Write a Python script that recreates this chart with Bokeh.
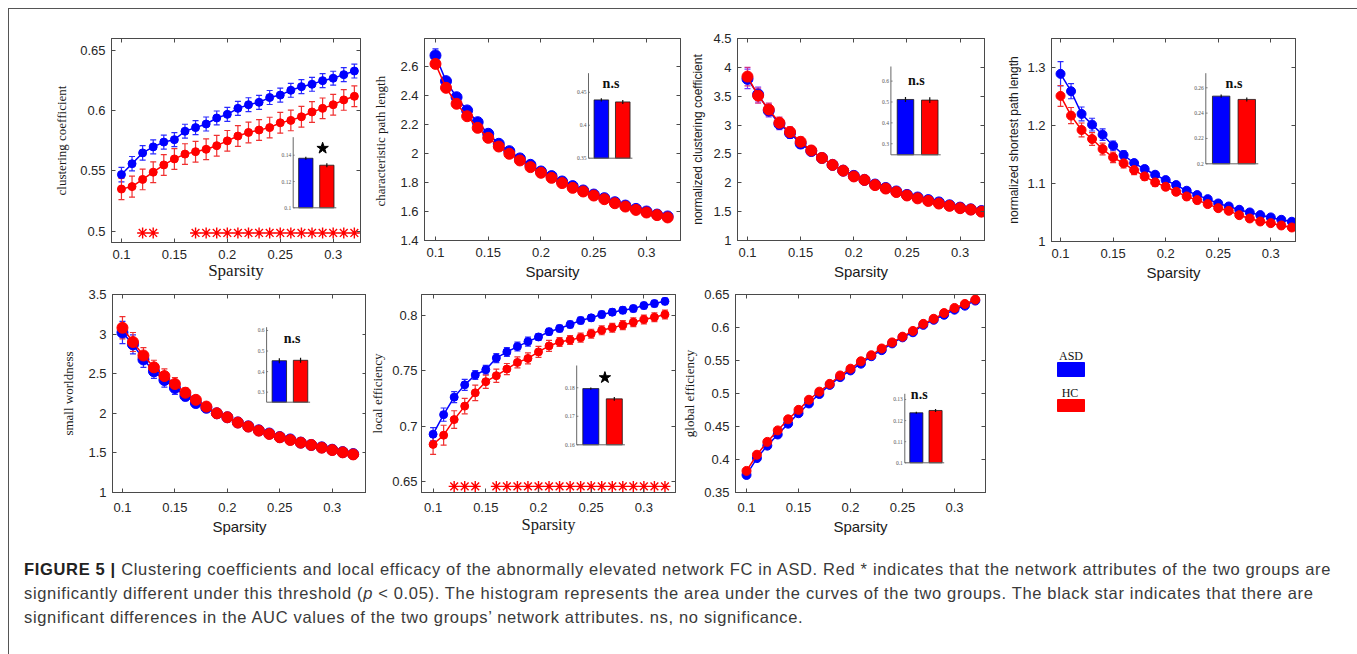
from bokeh.plotting import figure
from bokeh.models import (Range1d, LinearAxis, FixedTicker, CustomJSTickFormatter, Whisker,
                          ColumnDataSource, TeeHead, Div)
from bokeh.layouts import row, column
from bokeh.core.properties import value
from bokeh.embed import file_html
from bokeh.resources import INLINE

# ---------------------------------------------------------------- data
sparsity = [0.10, 0.11, 0.12, 0.13, 0.14, 0.15, 0.16, 0.17, 0.18, 0.19, 0.20, 0.21,
            0.22, 0.23, 0.24, 0.25, 0.26, 0.27, 0.28, 0.29, 0.30, 0.31, 0.32]

cc_asd = [0.547, 0.556, 0.565, 0.570, 0.574, 0.576, 0.583, 0.586, 0.589, 0.594, 0.597, 0.602,
          0.605, 0.607, 0.611, 0.613, 0.617, 0.620, 0.622, 0.625, 0.627, 0.630, 0.633]
cc_hc = [0.535, 0.537, 0.543, 0.549, 0.555, 0.560, 0.564, 0.566, 0.568, 0.571, 0.575, 0.579,
         0.582, 0.584, 0.586, 0.590, 0.592, 0.595, 0.599, 0.602, 0.605, 0.609, 0.612]
cc_asd_err = [0.0060, 0.0060, 0.0060, 0.0058, 0.0058, 0.0058, 0.0058, 0.0058, 0.0058, 0.0058, 0.0058, 0.0058,
              0.0058, 0.0058, 0.0058, 0.0058, 0.0058, 0.0058, 0.0058, 0.0058, 0.0058, 0.0058, 0.0058]
cc_hc_err = [0.0088, 0.0088, 0.0086, 0.0086, 0.0086, 0.0086, 0.0086, 0.0086, 0.0086, 0.0086, 0.0086, 0.0086,
             0.0086, 0.0086, 0.0086, 0.0086, 0.0086, 0.0086, 0.0086, 0.0086, 0.0086, 0.0086, 0.0086]
cc_sig = [0.12, 0.13, 0.17, 0.18, 0.19, 0.20, 0.21, 0.22, 0.23, 0.24, 0.25, 0.26, 0.27, 0.28,
          0.29, 0.30, 0.31, 0.32]

lp_asd = [2.676, 2.499, 2.388, 2.297, 2.216, 2.136, 2.067, 2.016, 1.966, 1.922, 1.876, 1.844,
          1.807, 1.775, 1.745, 1.717, 1.692, 1.664, 1.641, 1.618, 1.600, 1.579, 1.566]
lp_hc = [2.618, 2.453, 2.343, 2.257, 2.177, 2.108, 2.048, 1.998, 1.952, 1.906, 1.867, 1.832,
         1.796, 1.763, 1.738, 1.710, 1.685, 1.657, 1.634, 1.611, 1.593, 1.575, 1.559]
lp_asd_err = [0.045, 0.020, 0.016, 0.014, 0.012, 0.011, 0.010, 0.009, 0.009, 0.008, 0.008, 0.008,
              0.008, 0.007, 0.007, 0.007, 0.007, 0.007, 0.007, 0.006, 0.006, 0.006, 0.006]
lp_hc_err = [0.030, 0.024, 0.019, 0.016, 0.014, 0.012, 0.011, 0.010, 0.010, 0.009, 0.009, 0.008,
             0.008, 0.008, 0.008, 0.007, 0.007, 0.007, 0.007, 0.007, 0.006, 0.006, 0.006]

ncc_asd = [3.80, 3.53, 3.25, 3.02, 2.86, 2.68, 2.55, 2.43, 2.31, 2.21, 2.12, 2.05,
           1.97, 1.91, 1.85, 1.79, 1.745, 1.70, 1.66, 1.61, 1.57, 1.54, 1.51]
ncc_hc = [3.84, 3.51, 3.27, 3.04, 2.88, 2.71, 2.56, 2.43, 2.31, 2.21, 2.11, 2.05,
          1.96, 1.90, 1.84, 1.78, 1.73, 1.685, 1.64, 1.60, 1.56, 1.535, 1.50]
ncc_asd_err = [0.17, 0.13, 0.11, 0.10, 0.09, 0.08, 0.06, 0.05, 0.045, 0.04, 0.035, 0.03,
               0.03, 0.025, 0.025, 0.02, 0.02, 0.02, 0.02, 0.02, 0.02, 0.02, 0.02]
ncc_hc_err = [0.16, 0.13, 0.11, 0.10, 0.09, 0.08, 0.06, 0.05, 0.045, 0.04, 0.035, 0.03,
              0.03, 0.025, 0.025, 0.02, 0.02, 0.02, 0.02, 0.02, 0.02, 0.02, 0.02]

nsp_asd = [1.2896, 1.2596, 1.2204, 1.2019, 1.1846, 1.1656, 1.1494, 1.1355, 1.1252, 1.1153, 1.1061, 1.0975,
           1.0877, 1.0802, 1.0732, 1.0657, 1.0605, 1.0548, 1.0502, 1.0456, 1.0416, 1.0375, 1.0341]
nsp_hc = [1.2515, 1.2175, 1.1927, 1.1771, 1.1598, 1.1454, 1.1350, 1.1234, 1.1125, 1.1021, 1.0946, 1.0859,
          1.0778, 1.0715, 1.0646, 1.0576, 1.0530, 1.0455, 1.0398, 1.0346, 1.0317, 1.0277, 1.0242]
nsp_asd_err = [0.021, 0.013, 0.012, 0.011, 0.010, 0.008, 0.007, 0.006, 0.006, 0.005, 0.005, 0.005,
               0.005, 0.004, 0.004, 0.004, 0.004, 0.004, 0.004, 0.004, 0.004, 0.004, 0.004]
nsp_hc_err = [0.018, 0.014, 0.012, 0.011, 0.010, 0.009, 0.008, 0.008, 0.007, 0.007, 0.006, 0.006,
              0.006, 0.006, 0.005, 0.005, 0.005, 0.005, 0.005, 0.005, 0.004, 0.004, 0.004]

sw_asd = [3.02, 2.87, 2.68, 2.53, 2.42, 2.32, 2.22, 2.13, 2.07, 2.00, 1.95, 1.885,
          1.835, 1.785, 1.745, 1.700, 1.670, 1.630, 1.600, 1.570, 1.540, 1.510, 1.485]
sw_hc = [3.08, 2.90, 2.73, 2.58, 2.47, 2.37, 2.26, 2.17, 2.085, 2.00, 1.95, 1.883,
         1.832, 1.781, 1.739, 1.697, 1.663, 1.629, 1.600, 1.566, 1.536, 1.507, 1.481]
sw_asd_err = [0.14, 0.12, 0.10, 0.09, 0.09, 0.08, 0.06, 0.05, 0.04, 0.035, 0.03, 0.03,
              0.025, 0.025, 0.02, 0.02, 0.02, 0.02, 0.02, 0.02, 0.02, 0.02, 0.02]
sw_hc_err = [0.14, 0.12, 0.10, 0.09, 0.09, 0.08, 0.06, 0.05, 0.04, 0.035, 0.03, 0.03,
             0.025, 0.025, 0.02, 0.02, 0.02, 0.02, 0.02, 0.02, 0.02, 0.02, 0.02]

le_asd = [0.6927, 0.7104, 0.7262, 0.7373, 0.7462, 0.7510, 0.7615, 0.7671, 0.7719, 0.7764, 0.7806, 0.7854,
          0.7883, 0.7919, 0.7955, 0.7979, 0.8009, 0.8030, 0.8048, 0.8063, 0.8090, 0.8108, 0.8128]
le_hc = [0.6835, 0.6918, 0.7059, 0.7181, 0.7301, 0.7402, 0.7456, 0.7516, 0.7576, 0.7612, 0.7671, 0.7725,
         0.7761, 0.7779, 0.7800, 0.7836, 0.7866, 0.7889, 0.7913, 0.7940, 0.7964, 0.7985, 0.8009]
le_asd_err = [0.006, 0.006, 0.005, 0.005, 0.004, 0.004, 0.004, 0.004, 0.004, 0.004, 0.003, 0.003,
              0.003, 0.003, 0.003, 0.003, 0.003, 0.003, 0.003, 0.003, 0.003, 0.003, 0.003]
le_hc_err = [0.009, 0.009, 0.008, 0.007, 0.007, 0.006, 0.006, 0.005, 0.005, 0.005, 0.005, 0.005,
             0.004, 0.004, 0.004, 0.004, 0.004, 0.004, 0.004, 0.004, 0.004, 0.004, 0.004]
le_sig = [0.12, 0.13, 0.14, 0.16, 0.17, 0.18, 0.19, 0.20, 0.21, 0.22, 0.23, 0.24, 0.25, 0.26,
          0.27, 0.28, 0.29, 0.30, 0.31, 0.32]

ge_asd = [0.3766, 0.4021, 0.4210, 0.4379, 0.4543, 0.4701, 0.4849, 0.4992, 0.5130, 0.5248, 0.5350, 0.5452,
          0.5565, 0.5657, 0.5759, 0.5851, 0.5928, 0.6040, 0.6117, 0.6193, 0.6270, 0.6331, 0.6408]
ge_hc = [0.3827, 0.4072, 0.4267, 0.4441, 0.4609, 0.4752, 0.4905, 0.5028, 0.5146, 0.5273, 0.5376, 0.5488,
         0.5580, 0.5682, 0.5774, 0.5861, 0.5948, 0.6055, 0.6132, 0.6219, 0.6296, 0.6357, 0.6423]
ge_asd_err = [0.004, 0.004, 0.004, 0.004, 0.004, 0.004, 0.004, 0.004, 0.003, 0.003, 0.003, 0.003,
              0.003, 0.003, 0.003, 0.003, 0.003, 0.003, 0.003, 0.003, 0.003, 0.003, 0.003]
ge_hc_err = [0.004, 0.004, 0.004, 0.004, 0.004, 0.004, 0.004, 0.004, 0.003, 0.003, 0.003, 0.003,
             0.003, 0.003, 0.003, 0.003, 0.003, 0.003, 0.003, 0.003, 0.003, 0.003, 0.003]

# AUC insets: [ASD, HC]
auc_cc = [0.1377, 0.1324]
auc_cc_err = [0.0012, 0.0015]
auc_cc_ticks = [0.1, 0.12, 0.14]
auc_lp = [0.4385, 0.4354]
auc_lp_err = [0.0025, 0.003]
auc_lp_ticks = [0.35, 0.4, 0.45]
auc_ncc = [0.512, 0.509]
auc_ncc_err = [0.012, 0.014]
auc_ncc_ticks = [0.3, 0.4, 0.5, 0.6]
auc_nsp = [0.2534, 0.2508]
auc_nsp_err = [0.0012, 0.0016]
auc_nsp_ticks = [0.2, 0.22, 0.24, 0.26]
auc_sw = [0.453, 0.455]
auc_sw_err = [0.012, 0.012]
auc_sw_ticks = [0.3, 0.4, 0.5, 0.6]
auc_le = [0.1797, 0.1761]
auc_le_err = [0.0004, 0.0007]
auc_le_ticks = [0.16, 0.17, 0.18]
auc_ge = [0.1237, 0.1248]
auc_ge_err = [0.0005, 0.0007]
auc_ge_ticks = [0.1, 0.11, 0.12, 0.13]

x_ticks = [0.1, 0.15, 0.2, 0.25, 0.3]
groups = ["ASD", "HC"]

# ---------------------------------------------------------------- style
BLUE = "#0000ff"
RED = "#ff0000"
BLUE_E = "#2a2aff"
RED_E = "#f03030"
SANS = "Liberation Sans"
SERIF = "Liberation Serif"
AX = "#4a4a4a"
TXT = "#262626"

NUM_FMT = "return String(Number(tick.toFixed(4)));"


def make_panel(frame, borders, xr, yr, yticks, ylabel, yfont, yfs, xfont, xfs, stand):
    fl, ft, fw, fh = frame
    bl, br, bt, bb = borders
    p = figure(frame_width=fw, frame_height=fh, x_range=Range1d(*xr), y_range=Range1d(*yr),
               min_border_left=bl, min_border_right=br, min_border_top=bt, min_border_bottom=bb,
               toolbar_location=None, output_backend="svg",
               x_axis_label="Sparsity", y_axis_label=ylabel)
    p.grid.visible = False
    p.outline_line_color = AX
    p.background_fill_color = "white"
    p.border_fill_color = "white"
    xt, xl, yt, yl = stand
    for ax, ticks in ((p.xaxis[0], x_ticks), (p.yaxis[0], yticks)):
        ax.ticker = FixedTicker(ticks=ticks)
        ax.formatter = CustomJSTickFormatter(code=NUM_FMT)
        ax.major_tick_in = 4
        ax.major_tick_out = 0
        ax.minor_tick_in = 0
        ax.minor_tick_out = 0
        ax.axis_line_color = AX
        ax.major_tick_line_color = AX
        ax.major_label_text_font = SANS
        ax.major_label_text_font_size = "13px"
        ax.major_label_text_color = TXT
        ax.major_label_text_line_height = 1.0
        ax.axis_label_text_font_style = "normal"
        ax.axis_label_text_color = "#1a1a1a"
        ax.axis_label_text_line_height = 1.0
    p.xaxis[0].major_label_standoff = xt
    p.xaxis[0].axis_label_standoff = xl
    p.xaxis[0].axis_label_text_font = xfont
    p.xaxis[0].axis_label_text_font_size = xfs
    p.yaxis[0].major_label_standoff = yt
    p.yaxis[0].axis_label_standoff = yl
    p.yaxis[0].axis_label_text_font = yfont
    p.yaxis[0].axis_label_text_font_size = yfs
    for loc, ticks in (("right", yticks), ("above", x_ticks)):
        a = LinearAxis(ticker=FixedTicker(ticks=ticks), formatter=CustomJSTickFormatter(code="return '';"),
                       major_tick_in=4, major_tick_out=0, minor_tick_in=0, minor_tick_out=0,
                       axis_line_color=AX, major_tick_line_color=AX, major_label_standoff=0)
        p.add_layout(a, loc)
    return p


def add_series(p, y, err, color, ecolor, size):
    src = ColumnDataSource(dict(x=sparsity, y=y,
                                upper=[a + b for a, b in zip(y, err)],
                                lower=[a - b for a, b in zip(y, err)]))
    w = Whisker(source=src, base="x", upper="upper", lower="lower", line_color=ecolor, line_width=1.2,
                upper_head=TeeHead(size=6, line_color=ecolor, line_width=1.2),
                lower_head=TeeHead(size=6, line_color=ecolor, line_width=1.2))
    p.add_layout(w)
    p.line("x", "y", source=src, line_color=color, line_width=1.5)
    p.scatter("x", "y", source=src, size=size, fill_color=color, line_color=color)


def add_sig(p, xs, level):
    p.scatter(x=xs, y=[level] * len(xs), marker="asterisk", size=11, line_color=RED, line_width=1.4)


def add_inset(p, frame, box, ydom, vals, errs, ticks, mark, mark_x, mark_dy):
    fl, ft, fw, fh = frame
    L, R, B, T = box
    ymin, ymax = ydom

    def xi(px):
        return 0.4 + (px - L) / (R - L) * 2.05

    def yi(py):
        return ymin + (B - py) / (B - T) * (ymax - ymin)

    p.extra_x_ranges = {"ix": Range1d(xi(fl), xi(fl + fw))}
    p.extra_y_ranges = {"iy": Range1d(yi(ft + fh), yi(ft))}
    kw = dict(x_range_name="ix", y_range_name="iy")
    p.vbar(x=[1, 2], top=vals, bottom=ymin, width=0.68, fill_color=[BLUE, RED],
           line_color="#1a1a1a", line_width=0.8, **kw)
    p.segment(x0=[1, 2], x1=[1, 2], y0=[v - e for v, e in zip(vals, errs)],
              y1=[v + e for v, e in zip(vals, errs)], line_color="#111111", line_width=1.2, **kw)
    p.segment(x0=[0.4, 0.4], y0=[ymin, ymin], x1=[0.4, 2.45], y1=[ymax, ymin],
              line_color="#666666", line_width=1, **kw)
    n = len(ticks)
    p.segment(x0=[0.4] * n, x1=[0.47] * n, y0=ticks, y1=ticks, line_color="#666666", line_width=0.8, **kw)
    p.text(x=[0.4] * n, y=ticks, text=[str(t) for t in ticks], x_offset=-2,
           text_align="right", text_baseline="middle", text_font=value(SERIF),
           text_font_size="5.5px", text_color="#555555", **kw)
    unit = (ymax - ymin) / (B - T)
    my = max(vals) + mark_dy * unit
    if mark == "ns":
        p.text(x=[mark_x], y=[my], text=["n.s"], text_align="center", text_baseline="middle",
               text_font=value(SERIF), text_font_style="bold", text_font_size="14px",
               text_color="#111111", **kw)
    else:
        p.scatter(x=[mark_x], y=[my], marker="star", size=12, fill_color="black",
                  line_color="black", **kw)


# page layout: content box starts at page (9, 9); row 1 spans 9..285, row 2 285..539
# (frames in a Bokeh row share their top edge)
# ---------------------------------------------------------------- row 1
f1 = (111, 38, 249, 204)
p1 = make_panel(f1, (102, 10, 29, 43), (0.0906, 0.3258), (0.4906, 0.660), [0.5, 0.55, 0.6, 0.65],
                "clustering coefficient", SERIF, "13px", SERIF, "17px", (7, -1, 6, 8))
add_series(p1, cc_asd, cc_asd_err, BLUE, BLUE_E, 8)
add_series(p1, cc_hc, cc_hc_err, RED, RED_E, 8)
add_sig(p1, cc_sig, 0.4985)
add_inset(p1, f1, (292.7, 335.8, 207.3, 136.7), (0.1, 0.1537), auc_cc, auc_cc_err, auc_cc_ticks,
          "star", 1.8, 10)

f2 = (422, 38, 256, 202)
p2 = make_panel(f2, (52, 4, 29, 45), (0.0896, 0.3322), (1.4, 2.793), [1.4, 1.6, 1.8, 2.0, 2.2, 2.4, 2.6],
                "characteristic  path length", SERIF, "13px", SANS, "15px", (7, 3, 6, 9))
add_series(p2, lp_asd, lp_asd_err, BLUE, BLUE_E, 11)
add_series(p2, lp_hc, lp_hc_err, RED, RED_E, 11)
add_inset(p2, f2, (586.0, 629.9, 157.7, 72.7), (0.35, 0.479), auc_lp, auc_lp_err, auc_lp_ticks,
          "ns", 1.45, 16)

f3 = (735, 38, 247, 202)
p3 = make_panel(f3, (53, 8, 29, 45), (0.0906, 0.3229), (1.0, 4.5), [1, 1.5, 2, 2.5, 3, 3.5, 4, 4.5],
                "normalized clustering coefficient", SANS, "12px", SANS, "15px", (7, 3, 6, 5))
add_series(p3, ncc_asd, ncc_asd_err, BLUE, "#7a3aff", 11)
add_series(p3, ncc_hc, ncc_hc_err, RED, "#d0308a", 11)
add_inset(p3, f3, (888.4, 938.2, 154.3, 66.0), (0.247, 0.67), auc_ncc, auc_ncc_err, auc_ncc_ticks,
          "ns", 1.45, 19)

f4 = (1049, 38, 244, 203)
p4 = make_panel(f4, (59, 55, 29, 44), (0.0914, 0.3235), (1.0, 1.3507), [1.0, 1.1, 1.2, 1.3],
                "normalized shortest path length", SANS, "12px", SANS, "15px", (7, 3, 6, 3))
add_series(p4, nsp_asd, nsp_asd_err, BLUE, BLUE_E, 9)
add_series(p4, nsp_hc, nsp_hc_err, RED, RED_E, 9)
add_inset(p4, f4, (1203.3, 1255.8, 163.3, 72.7), (0.2, 0.2715), auc_nsp, auc_nsp_err, auc_nsp_ticks,
          "ns", 1.5, 13)

# ---------------------------------------------------------------- row 2
f5 = (112, 294, 254, 198)
p5 = make_panel(f5, (103, 0, 9, 47), (0.0905, 0.3327), (1.0, 3.5), [1, 1.5, 2, 2.5, 3, 3.5],
                "small worldness", SERIF, "13px", SANS, "15px", (10, 3, 6, 9))
add_series(p5, sw_asd, sw_asd_err, BLUE, BLUE_E, 11)
add_series(p5, sw_hc, sw_hc_err, RED, RED_E, 11)
add_inset(p5, f5, (266.1, 309.6, 401.7, 326.7), (0.251, 0.616), auc_sw, auc_sw_err, auc_sw_ticks,
          "ns", 1.6, 22)

f6 = (421, 294, 254, 198)
p6 = make_panel(f6, (55, 4, 9, 47), (0.089, 0.330), (0.640, 0.819), [0.65, 0.7, 0.75, 0.8],
                "local efficiency", SERIF, "13px", SERIF, "16.5px", (10, 0, 4, 4))
add_series(p6, le_asd, le_asd_err, BLUE, BLUE_E, 8)
add_series(p6, le_hc, le_hc_err, RED, RED_E, 8)
add_sig(p6, le_sig, 0.6455)
add_inset(p6, f6, (576.2, 624.4, 444.3, 365.0), (0.16, 0.1878), auc_le, auc_le_err, auc_le_ticks,
          "star", 1.6, 11)

f7 = (735, 294, 250, 198)
p7 = make_panel(f7, (56, 10, 9, 47), (0.0894, 0.3298), (0.35, 0.65), [0.35, 0.4, 0.45, 0.5, 0.55, 0.6, 0.65],
                "global efficiency", SERIF, "13px", SANS, "15px", (10, 3, 6, 4))
add_series(p7, ge_asd, ge_asd_err, BLUE, BLUE_E, 9)
add_series(p7, ge_hc, ge_hc_err, RED, RED_E, 9)
add_inset(p7, f7, (904.3, 943.7, 462.3, 393.3), (0.1, 0.1327), auc_ge, auc_ge_err, auc_ge_ticks,
          "ns", 1.15, 16)

# legend panel (ASD / HC); coordinates are pixels below the row's frame top
pl = figure(frame_width=100, frame_height=198, x_range=Range1d(0, 100), y_range=Range1d(198, 0),
            min_border_left=0, min_border_right=0, min_border_top=9, min_border_bottom=47,
            x_axis_type=None, y_axis_type=None, toolbar_location=None, output_backend="svg")
pl.grid.visible = False
pl.outline_line_color = None
pl.rect(x=[75.5, 75.5], y=[75, 111], width=27, height=[14, 12], fill_color=[BLUE, RED],
        line_color=[BLUE, RED])
pl.text(x=[75.5, 74.5], y=[61, 98], text=groups, text_align="center", text_baseline="middle",
        text_font=value(SERIF), text_font_size="12px", text_color="#111111")

caption_html = (
    "<div style=\"padding:13px 0 0 10px; font-family:'Liberation Sans',Arial,sans-serif; "
    "font-size:16.5px; letter-spacing:0.66px; line-height:24px; color:#3a3a3a; white-space:nowrap;\">"
    "<b style='color:#222'>FIGURE 5 |</b> Clustering coefficients and local efficacy of the abnormally "
    "elevated network FC in ASD. Red * indicates that the network attributes of the two groups are<br>"
    "significantly different under this threshold (<i>p</i> &lt; 0.05). The histogram represents the area "
    "under the curves of the two groups. The black star indicates that there are<br>"
    "significant differences in the AUC values of the two groups\u2019 network attributes. ns, no significance."
    "</div>")
cap = Div(text=caption_html, width=1339, height=124)

layout = column(row(p1, p2, p3, p4), row(p5, p6, p7, pl), cap,
                margin=(8, 0, 0, 8), styles={"border": "1px solid #555555"})

open("out.html", "w").write(file_html(layout, INLINE, title="Figure 5"))
